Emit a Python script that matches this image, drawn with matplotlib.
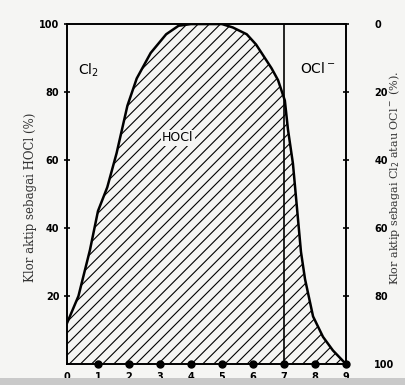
import matplotlib
matplotlib.use("Agg")
import matplotlib.pyplot as plt
from matplotlib.patches import Rectangle

# pH vs fraksi klor aktif sebagai HOCl
ph = [0, 0.37, 0.74, 1.0, 1.3, 1.6, 1.95, 2.25, 2.7, 3.2, 3.6, 4.0, 5.0,
      5.35, 5.8, 6.1, 6.6, 6.81, 7.03, 7.13, 7.29, 7.42, 7.55, 7.68,
      7.94, 8.26, 8.58, 9.0]
hocl = [12, 20, 33.5, 45, 52, 62, 76, 84, 91.5, 97, 99.5, 100, 100,
        99, 97, 94, 87, 83.5, 77.5, 69, 59, 46, 33, 25,
        14, 8, 4, 0]
dot_x = [1, 2, 3, 4, 5, 6, 7, 8, 9]
x_ticks = [0, 1, 2, 3, 4, 5, 6, 7, 8, 9]
left_ticks = [20, 40, 60, 80, 100]
right_ticks = [0, 20, 40, 60, 80, 100]

plt.rcParams['hatch.linewidth'] = 0.8

fig = plt.figure(figsize=(4.06, 3.85), dpi=100)
fig.patch.set_facecolor('#f5f5f3')
fig.patches.append(Rectangle((0, 0), 1, 0.018, transform=fig.transFigure,
                             facecolor='#c9c9c9', edgecolor='none'))

ax = fig.add_axes([0.165, 0.0545, 0.687, 0.883])
ax.set_facecolor('none')
ax.set_xlim(0, 9)
ax.set_ylim(0, 100)

ax.fill_between(ph, hocl, 0, facecolor='none', edgecolor='black',
                hatch='///', linewidth=0)
ax.plot(ph, hocl, color='black', lw=1.8)
ax.plot([7, 7], [0, 100], color='black', lw=1.2)
ax.plot(dot_x, [0] * len(dot_x), 'o', color='black', ms=5, clip_on=False)

for s in ax.spines.values():
    s.set_linewidth(1.4)

ax.set_xticks(x_ticks)
ax.set_xticklabels([str(v) for v in x_ticks], fontsize=7, fontweight='bold')
ax.tick_params(axis='x', length=0, pad=6)
ax.set_yticks(left_ticks)
ax.set_yticklabels([str(v) for v in left_ticks], fontsize=7, fontweight='bold')
ax.tick_params(axis='y', direction='inout', length=5, width=1.2, pad=3)

ax2 = ax.twinx()
ax2.set_ylim(100, 0)
ax2.set_yticks(right_ticks)
ax2.set_yticklabels([str(v) for v in right_ticks], fontsize=7, fontweight='bold')
ax2.tick_params(axis='y', direction='inout', length=5, width=1.2, pad=18)
for s in ax2.spines.values():
    s.set_visible(False)

ax.text(0.68, 86.5, 'Cl$_2$', fontsize=10, ha='center', va='center')
ax.text(3.58, 66.5, 'HOCl', fontsize=9, ha='center', va='center',
        bbox=dict(facecolor='#f5f5f3', edgecolor='none', pad=1))
ax.text(8.1, 87, 'OCl$^-$', fontsize=10, ha='center', va='center')

fig.text(0.074, 0.488, 'Klor aktip sebagai HOCl (%)', rotation=90,
         ha='center', va='center', fontsize=8.5, family='DejaVu Serif',
         color='#333333')
fig.text(0.972, 0.538, 'Klor aktip sebagai Cl$_2$ atau OCl$^-$ (%).', rotation=90,
         ha='center', va='center', fontsize=8, family='DejaVu Serif',
         color='#333333')

fig.savefig('out.png', dpi=100, facecolor=fig.get_facecolor())
